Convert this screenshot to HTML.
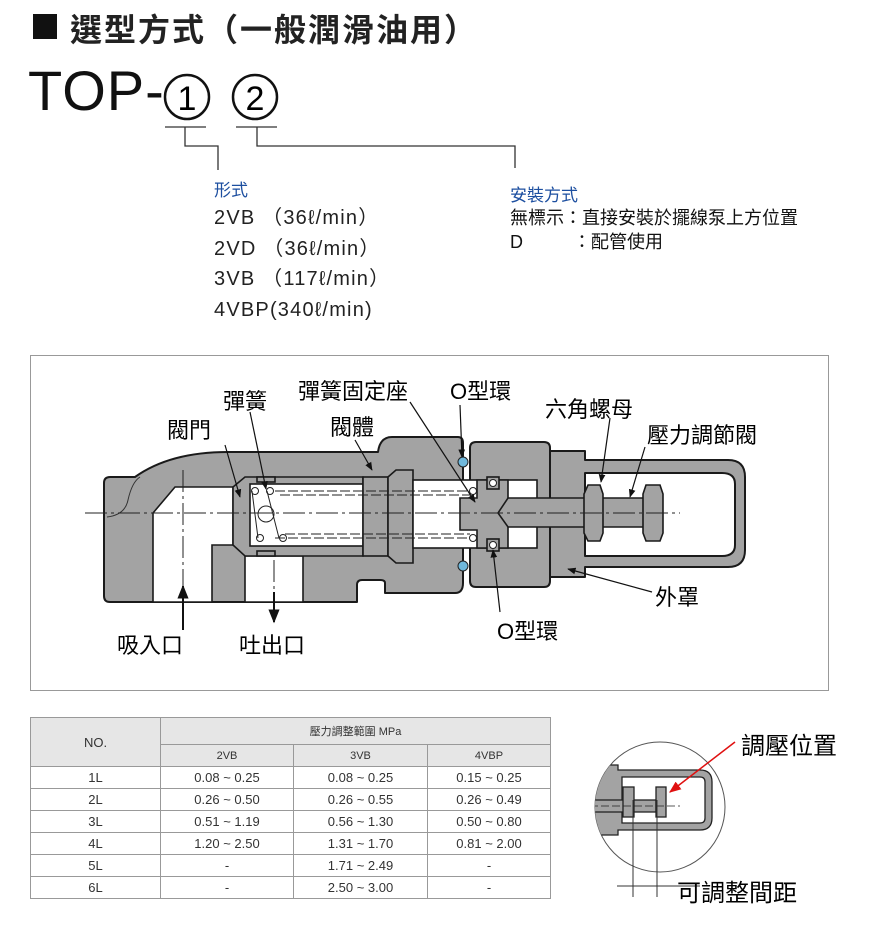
<!DOCTYPE html>
<html><head><meta charset="utf-8"><style>
body{margin:0;background:#fff;width:880px;height:945px;overflow:hidden;position:relative;font-family:"Liberation Sans","Noto Sans CJK TC",sans-serif}
.a{position:absolute;white-space:nowrap}
table{position:absolute;left:30px;top:717px;border-collapse:collapse;font-family:"Liberation Sans","Noto Sans CJK TC",sans-serif;color:#333}
td{border:1px solid #999;text-align:center;font-size:13px;padding:0;height:21px}
.h{background:#e6e6e6;font-size:11px}
</style></head><body>
<div class="a" style="left:33px;top:14px;width:24px;height:25px;background:#111"></div>
<div class="a" style="left:70px;top:5px;font-size:32px;font-weight:bold;color:#222;letter-spacing:2px">選型方式（一般潤滑油用）</div>
<div class="a" style="left:28px;top:58px;font-size:56px;color:#111;letter-spacing:1px">TOP-</div>
<svg class="a" style="left:0;top:0" width="880" height="945">
<g fill="none" stroke="#111" stroke-width="2.5"><circle cx="187" cy="97" r="22"/><circle cx="255" cy="97" r="22"/></g>
<text x="187" y="110" font-size="34" text-anchor="middle" font-family="Liberation Sans">1</text>
<text x="255" y="110" font-size="34" text-anchor="middle" font-family="Liberation Sans">2</text>
<g fill="none" stroke="#333" stroke-width="1.3">
<path d="M165 127H206M185 127V146H218V170"/>
<path d="M236 127H277M257 127V146H515V168"/>
</g>
</svg>
<div class="a" style="left:214px;top:176px;font-size:17px;color:#1d4fa0">形式</div>
<div class="a" style="left:214px;top:203px;font-size:20px;color:#222;line-height:30.5px;letter-spacing:1.2px">2VB （36ℓ/min）<br>2VD （36ℓ/min）<br>3VB （117ℓ/min）<br>4VBP(340ℓ/min)</div>
<div class="a" style="left:510px;top:181px;font-size:17px;color:#1d4fa0">安裝方式</div>
<div class="a" style="left:510px;top:206px;font-size:18px;color:#111;line-height:24px">無標示：直接安裝於擺線泵上方位置<br>D&nbsp;&nbsp;&nbsp;&nbsp;&nbsp;&nbsp;&nbsp;&nbsp;&nbsp;&nbsp;：配管使用</div>
<div class="a" style="left:30px;top:355px;width:797px;height:334px;border:1px solid #999"></div>
<svg class="a" style="left:0;top:0" width="880" height="945">
<g stroke="#1a1a1a" stroke-width="2" fill="#a3a3a3" stroke-linejoin="round">
<path d="M548 451H585V460H728Q745 460 745 477V550Q745 567 728 567H585V577H548Z M585 473V556H722Q735 556 735 545V484Q735 473 722 473Z" fill-rule="evenodd"/>
<path d="M476 442H544Q550 442 550 448V581Q550 587 544 587H476Q470 587 470 581V448Q470 442 476 442Z"/>
<path d="M110 477H135Q170 452 228 452H378Q380 437 392 437H458Q463 437 463 443V583Q463 593 455 593H385V583Q385 580 380 580H362Q357 580 357 585V602H110Q104 602 104 596V483Q104 477 110 477Z"/>
</g>
<path d="M107 517Q125 515 128 500Q132 482 140 477" fill="none" stroke="#333" stroke-width="1"/>
<g stroke="#1a1a1a" stroke-width="1.6">
<path d="M153 602V513L175 487H233V545H212V602Z" fill="#fff"/>
<path d="M245 556H303V602H245Z" fill="#fff"/>
<path d="M245 477H363V556H245L233 545V487Z" fill="#a3a3a3"/>
<rect x="250" y="484" width="113" height="62" fill="#fff"/>
<rect x="257" y="477" width="18" height="5" fill="#a3a3a3"/>
<rect x="257" y="551" width="18" height="5" fill="#a3a3a3"/>
<rect x="363" y="477" width="25" height="79" fill="#a3a3a3"/>
<path d="M388 477L396 470H413V563H396L388 556Z" fill="#a3a3a3"/>
<rect x="413" y="480" width="124" height="68" fill="#fff"/>
<path d="M477 480H508V548H477V530H460V498H477Z" fill="#a3a3a3"/>
<rect x="487" y="477" width="12" height="12" fill="#a3a3a3"/>
<rect x="487" y="539" width="12" height="12" fill="#a3a3a3"/>
<path d="M508 498H645V527H508L498 513Z" fill="#a3a3a3"/>
<path d="M588 485H600L603 494V533L600 541H588L584 533V494Z" fill="#a3a3a3"/>
<path d="M646 485H660L663 494V533L660 541H646L643 533V494Z" fill="#a3a3a3"/>
</g>
<g fill="#fff" stroke="#222" stroke-width="1"><circle cx="493" cy="483" r="3.5"/><circle cx="493" cy="545" r="3.5"/>
<circle cx="255" cy="491" r="3.5"/><circle cx="270" cy="491" r="3.5"/><circle cx="260" cy="538" r="3.5"/><circle cx="283" cy="538" r="3.5"/><circle cx="266" cy="514" r="8"/><circle cx="473" cy="491" r="3.5"/><circle cx="473" cy="538" r="3.5"/></g>
<g stroke="#222" stroke-width="1" fill="none">
<path d="M252 491L258 538M267 491L279 538"/>
<path d="M275 491H470M275 538H470M280 495H470M285 534H470" stroke-dasharray="10 3"/>
<path d="M85 513H680" stroke-dasharray="22 4 3 4"/>
<path d="M183 470V630M274 560V600" stroke-dasharray="22 4 3 4"/>
</g>
<g fill="#6fb8dc" stroke="#222" stroke-width="1"><circle cx="463" cy="462" r="5"/><circle cx="463" cy="566" r="5"/></g>
<defs><marker id="m" viewBox="0 0 10 10" refX="9" refY="5" markerWidth="7" markerHeight="7" orient="auto"><path d="M0 1L10 5L0 9Z" fill="#111"/></marker>
<marker id="r" viewBox="0 0 10 10" refX="9" refY="5" markerWidth="8" markerHeight="8" orient="auto"><path d="M0 1L10 5L0 9Z" fill="#e01010"/></marker></defs>
<g stroke="#111" stroke-width="1.2" fill="none" marker-end="url(#m)">
<path d="M250 412L266 489"/><path d="M225 445L240 497"/><path d="M355 440L372 470"/><path d="M410 402L475 502"/><path d="M460 405L462 457"/><path d="M610 418L601 482"/><path d="M645 447L630 497"/><path d="M652 592L568 569"/><path d="M500 612L493 550"/>
<path d="M183 630V586" stroke-width="2"/><path d="M274 592V622" stroke-width="2"/>
</g>
</svg>
<div class="a" style="left:223px;top:384px;font-size:22px">彈簧</div>
<div class="a" style="left:167px;top:413px;font-size:22px">閥門</div>
<div class="a" style="left:298px;top:374px;font-size:22px">彈簧固定座</div>
<div class="a" style="left:330px;top:410px;font-size:22px">閥體</div>
<div class="a" style="left:450px;top:374px;font-size:22px">O型環</div>
<div class="a" style="left:545px;top:392px;font-size:22px">六角螺母</div>
<div class="a" style="left:647px;top:418px;font-size:22px">壓力調節閥</div>
<div class="a" style="left:655px;top:580px;font-size:22px">外罩</div>
<div class="a" style="left:497px;top:614px;font-size:22px">O型環</div>
<div class="a" style="left:117px;top:628px;font-size:22px">吸入口</div>
<div class="a" style="left:239px;top:628px;font-size:22px">吐出口</div>
<table>
<tr><td rowspan="2" class="h" style="width:129px;font-size:13px">NO.</td><td colspan="3" class="h" style="height:26px">壓力調整範圍 MPa</td></tr>
<tr><td class="h" style="width:132px">2VB</td><td class="h" style="width:133px">3VB</td><td class="h" style="width:122px">4VBP</td></tr>
<tr><td>1L</td><td>0.08 ~ 0.25</td><td>0.08 ~ 0.25</td><td>0.15 ~ 0.25</td></tr>
<tr><td>2L</td><td>0.26 ~ 0.50</td><td>0.26 ~ 0.55</td><td>0.26 ~ 0.49</td></tr>
<tr><td>3L</td><td>0.51 ~ 1.19</td><td>0.56 ~ 1.30</td><td>0.50 ~ 0.80</td></tr>
<tr><td>4L</td><td>1.20 ~ 2.50</td><td>1.31 ~ 1.70</td><td>0.81 ~ 2.00</td></tr>
<tr><td>5L</td><td>-</td><td>1.71 ~ 2.49</td><td>-</td></tr>
<tr><td>6L</td><td>-</td><td>2.50 ~ 3.00</td><td>-</td></tr>
</table>
<svg class="a" style="left:0;top:0" width="880" height="945">
<defs><clipPath id="c"><circle cx="660" cy="807" r="65"/></clipPath></defs>
<circle cx="660" cy="807" r="65" fill="none" stroke="#555" stroke-width="1"/>
<g clip-path="url(#c)" stroke="#222" stroke-width="1.3" fill="#a3a3a3">
<path d="M590 765H618V770H700Q712 770 712 782V818Q712 830 700 830H618V835H590Z M622 777V823H700Q705 823 705 818V782Q705 777 700 777Z" fill-rule="evenodd"/>
<rect x="590" y="800" width="66" height="12"/>
<rect x="623" y="787" width="11" height="30"/>
<rect x="656" y="787" width="10" height="30"/>
<path d="M590 806H680" stroke-dasharray="8 3" fill="none" stroke-width="0.8"/>
</g>
<g stroke="#333" stroke-width="1" fill="none"><path d="M633 800V897M657 800V897M617 886H700"/></g>
<path d="M735 742L670 792" stroke="#e01010" stroke-width="1.5" marker-end="url(#r)"/>
</svg>
<div class="a" style="left:741px;top:726px;font-size:24px">調壓位置</div>
<div class="a" style="left:677px;top:873px;font-size:24px">可調整間距</div>
</body></html>
